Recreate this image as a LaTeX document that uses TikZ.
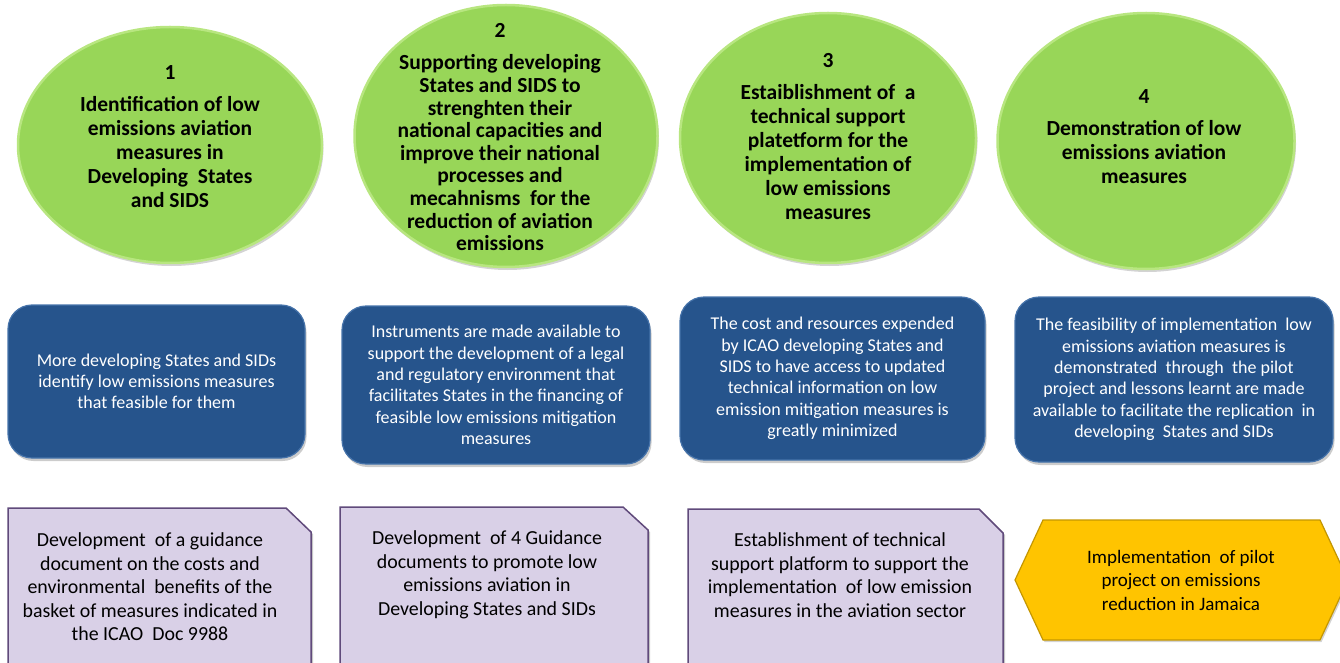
\documentclass[tikz,border=0pt]{standalone}
\usepackage{fontspec}
\setmainfont{Carlito}
\usetikzlibrary{shapes.geometric,shadows}

\definecolor{goalgreen}{RGB}{152,214,88}
\definecolor{goalrim}{RGB}{184,230,128}
\definecolor{outblue}{RGB}{38,84,140}
\definecolor{outrim}{RGB}{70,115,170}
\definecolor{actlilac}{RGB}{217,208,231}
\definecolor{actedge}{RGB}{96,74,123}
\definecolor{pilotgold}{RGB}{255,196,0}
\definecolor{pilotedge}{RGB}{196,150,0}

\begin{document}
\begin{tikzpicture}[x=1pt,y=-1pt,
	goal/.style={ellipse,fill=goalgreen,draw=goalrim,line width=2.5pt,inner sep=0pt,
		drop shadow={shadow xshift=1.5pt,shadow yshift=-3pt,opacity=0.35}},
	goaltext/.style={align=center,font=\fontsize{21.5}{24}\selectfont\bfseries,text=black},
	outcome/.style={rectangle,rounded corners=24pt,fill=outblue,draw=outrim,line width=1.2pt,
		align=center,text=white,font=\fontsize{18}{21.3}\selectfont,
		drop shadow={shadow xshift=1.5pt,shadow yshift=-3pt,opacity=0.4}},
	activity/.style={fill=actlilac,draw=actedge,line width=1.5pt,
		drop shadow={shadow xshift=2pt,shadow yshift=-2pt,opacity=0.45}},
	acttext/.style={align=center,font=\fontsize{19.9}{23.5}\selectfont,text=black},
	pilot/.style={fill=pilotgold,draw=pilotedge,line width=1.2pt,
		drop shadow={shadow xshift=1.5pt,shadow yshift=-2pt,opacity=0.35}}]

	% page
	\path[use as bounding box] (0,0) rectangle (1340,663);
	\clip (0,0) rectangle (1340,663);

	% goals
	\node[goal,minimum width=304,minimum height=236] (g1) at (170,145) {};
	\node[goal,minimum width=303,minimum height=262] (g2) at (506,136) {};
	\node[goal,minimum width=296,minimum height=250] (g3) at (828,138) {};
	\node[goal,minimum width=297,minimum height=256] (g4) at (1146,141) {};

	% goal texts
	\node[goaltext] (g1txt) at (170,137) {1\\[8pt]Identification of low\\emissions aviation\\measures in\\Developing\ \ States\\and SIDS};
	\node[goaltext,font=\fontsize{21.5}{22.6}\selectfont\bfseries] (g2txt) at (500,137) {2\\[10pt]Supporting developing\\States and SIDS to\\strenghten their\\national capacities and\\improve their national\\processes and\\mecahnisms\ \ for the\\reduction of aviation\\emissions};
	\node[goaltext] (g3txt) at (828,137) {3\\[8pt]Estaiblishment of\ \ a\\technical support\\platetform for the\\implementation of\\low emissions\\measures};
	\node[goaltext] (g4txt) at (1144,137) {4\\[8pt]Demonstration of low\\emissions aviation\\measures};

	% outcomes
	\node[outcome,minimum width=297,minimum height=153] (o1) at (156.5,381.5) {More developing States and SIDs\\identify low emissions measures\\that feasible for them};
	\node[outcome,minimum width=308,minimum height=158] (o2) at (496,385) {Instruments are made available to\\support the development of a legal\\and regulatory environment that\\facilitates States in the financing of\\feasible low emissions mitigation\\measures};
	\node[outcome,minimum width=305,minimum height=163] (o3) at (832.5,378.5) {The cost and resources expended\\by ICAO developing States and\\SIDS to have access to updated\\technical information on low\\emission mitigation measures is\\greatly minimized};
	\node[outcome,minimum width=318,minimum height=165] (o4) at (1174,379.5) {The feasibility of implementation\ \ low\\emissions aviation measures is\\demonstrated\ \ through\ \ the pilot\\project and lessons learnt are made\\available to facilitate the replication\ \ in\\developing\ \ States and SIDs};

	% activities
	\filldraw[activity] (8,508) -- (286,508) -- (311,532) -- (311,690) -- (8,690) -- cycle;
	\filldraw[activity] (340,507) -- (623,507) -- (648,530) -- (648,690) -- (340,690) -- cycle;
	\filldraw[activity] (688,509) -- (979,509) -- (1003,533) -- (1003,690) -- (688,690) -- cycle;

	% activity texts
	\node[acttext] (a1txt) at (150,587) {Development\ \ of a guidance\\document on the costs and\\environmental\ \ benefits of the\\basket of measures indicated in\\the ICAO\ \ Doc 9988};
	\node[acttext] (a2txt) at (487,575) {Development\ \ of 4 Guidance\\documents to promote low\\emissions aviation in\\Developing States and SIDs};
	\node[acttext] (a3txt) at (840,575) {Establishment of technical\\support platform to support the\\implementation\ \ of low emission\\measures in the aviation sector};

	% pilot project
	\filldraw[pilot] (1015,580) -- (1043,520) -- (1320,520) -- (1348,580) -- (1320,640) -- (1043,640) -- cycle;
	\node[acttext,font=\fontsize{19}{23.5}\selectfont] (p4txt) at (1181,580) {Implementation\ \ of pilot\\project on emissions\\reduction in Jamaica};

\end{tikzpicture}
\end{document}
